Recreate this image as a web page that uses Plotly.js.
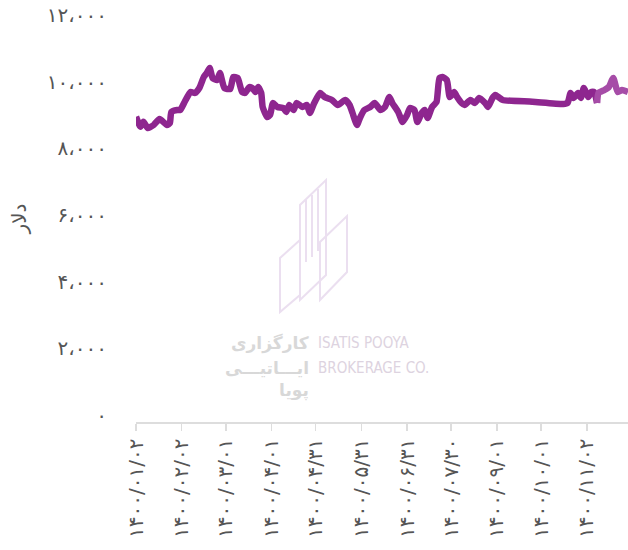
<!DOCTYPE html>
<html>
<head>
<meta charset="utf-8">
<script src="https://cdn.plot.ly/plotly-3.0.1.min.js"></script>
<style>html,body{margin:0;padding:0;background:#fff;}#chart{width:628px;height:550px;}</style>
</head>
<body>
<div id="chart"></div>
<script>
// Day index (1 = 1400/01/02) and price in dollars
const days = [1,4,6,9,13,17,22,24,25,29,31,34,38,41,44,47,49,51,53,56,58,61,65,67,70,73,75,78,80,82,84,86,87,90,92,94,97,101,103,105,108,110,114,117,119,122,126,129,134,138,143,146,148,151,153,156,160,163,167,170,173,175,179,182,185,187,190,192,195,197,199,202,205,207,209,212,214,217,219,222,224,228,231,234,238,240,243,245,247,250,270,291,294,296,298,301,303,305,308,310,312,314];
const values = [8950,8650,8800,8610,8700,8880,8700,8760,9090,9150,9150,9390,9690,9660,9810,10140,10260,10410,10110,10050,10260,9810,9780,10140,10110,9690,9660,9840,9810,9690,9840,9660,9240,8940,9000,9360,9240,9210,9090,9300,9150,9360,9240,9300,9060,9360,9660,9540,9450,9300,9450,9300,9060,8700,8910,9150,9240,9360,9150,9240,9540,9360,9090,8790,9000,9210,9150,8790,9060,9150,8910,9240,9390,10110,10140,10050,9540,9690,9540,9360,9300,9450,9360,9510,9360,9240,9510,9600,9540,9450,9400,9330,9360,9660,9510,9660,9510,9810,9540,9690,9690,9360];
const daysLate = [314,315,319,322,325,328,331,335];
const valuesLate = [9360,9660,9750,9840,10110,9690,9750,9690];

const xTickVals = [1,32,62,93,123,154,185,215,246,276,307];
const xTickText = ['۱۴۰۰/۰۱/۰۲','۱۴۰۰/۰۲/۰۲','۱۴۰۰/۰۳/۰۱','۱۴۰۰/۰۴/۰۱','۱۴۰۰/۰۴/۳۱','۱۴۰۰/۰۵/۳۱','۱۴۰۰/۰۶/۳۱','۱۴۰۰/۰۷/۳۰','۱۴۰۰/۰۹/۰۱','۱۴۰۰/۱۰/۰۱','۱۴۰۰/۱۱/۰۲'];
const yTickVals = [0,2000,4000,6000,8000,10000,12000];
const yTickText = ['۰','۲،۰۰۰','۴،۰۰۰','۶،۰۰۰','۸،۰۰۰','۱۰،۰۰۰','۱۲،۰۰۰'];
const yTitle = 'دلار';

// watermark helpers (pixel -> paper)
const L = 136, R = 628, T = 15, B = 422;
const px = x => (x - L) / (R - L);
const py = y => (B - y) / (B - T);
function path(pts){ return pts.map((p,i)=>(i?'L':'M')+px(p[0]).toFixed(4)+','+py(p[1]).toFixed(4)).join(' ')+' Z'; }
const wmColor = '#ebdff0';
const shapes = [
  [[280,312],[280,258],[300,240],[300,295]],
  [[300,300],[300,205],[326,180],[326,275]],
  [[320,300],[320,242],[347,216],[347,272]]
].map(p=>({type:'path',xref:'paper',yref:'paper',path:path(p),line:{color:wmColor,width:2},layer:'below'}));
[[306,200,262],[312,195,257],[318,189,251]].forEach(l=>{
  shapes.push({type:'line',xref:'paper',yref:'paper',x0:px(l[0]),x1:px(l[0]),y0:py(l[1]),y1:py(l[2]),line:{color:wmColor,width:2},layer:'below'});
});
const ann = (text,x,y,anchor,size,color,fam)=>({text:text,xref:'paper',yref:'paper',x:px(x),y:py(y),xanchor:anchor,yanchor:'middle',showarrow:false,font:{size:size,color:color,family:fam}});
const annotations = [
  ann('ISATIS POOYA',316,343,'left',15,'#ddd3e0','Liberation Sans Narrow, DejaVu Sans Condensed'),
  ann('BROKERAGE CO.',316,368,'left',15,'#ddd3e0','Liberation Sans Narrow, DejaVu Sans Condensed'),
  ann('<b>کارگزاری</b>',311,343,'right',17,'#d8d8d8','DejaVu Sans'),
  ann('<b>ایـــاتیـــی</b>',311,368,'right',17,'#d8d8d8','DejaVu Sans'),
  ann('<b>پویا</b>',311,390,'right',17,'#d8d8d8','DejaVu Sans')
];

const traces = [
  {x: days, y: values, type:'scatter', mode:'lines', line:{color:'#8e268f', width:6.5, shape:'spline', smoothing:0.5}, hoverinfo:'x+y'},
  {x: daysLate, y: valuesLate, type:'scatter', mode:'lines', line:{color:'#a64ca7', width:6.5, shape:'spline', smoothing:0.5}, hoverinfo:'x+y'}
];

const layout = {
  width:628, height:550,
  margin:{l:136, r:0, t:15, b:128},
  paper_bgcolor:'#fff', plot_bgcolor:'#fff',
  showlegend:false,
  font:{family:'DejaVu Sans', color:'#666'},
  xaxis:{
    range:[1,335], tickvals:xTickVals, ticktext:xTickText, tickangle:-90,
    showgrid:false, zeroline:false, showline:true, linecolor:'#dddddd', linewidth:1.5,
    ticks:'outside', ticklen:7, tickcolor:'#dddddd', tickwidth:1.5,
    tickfont:{size:20, color:'#555', family:'DejaVu Sans'}
  },
  yaxis:{
    range:[-210,12000], tickvals:yTickVals, ticktext:yTickText,
    showgrid:false, zeroline:false, showline:false, ticks:'', ticklabelstandoff:28,
    tickfont:{size:20, color:'#555', family:'DejaVu Sans'},
    title:{text:yTitle, font:{size:20, color:'#555', family:'DejaVu Sans'}, standoff:14}
  },
  shapes: shapes,
  annotations: annotations
};
Plotly.newPlot('chart', traces, layout, {displayModeBar:false, staticPlot:true});
</script>
</body>
</html>
